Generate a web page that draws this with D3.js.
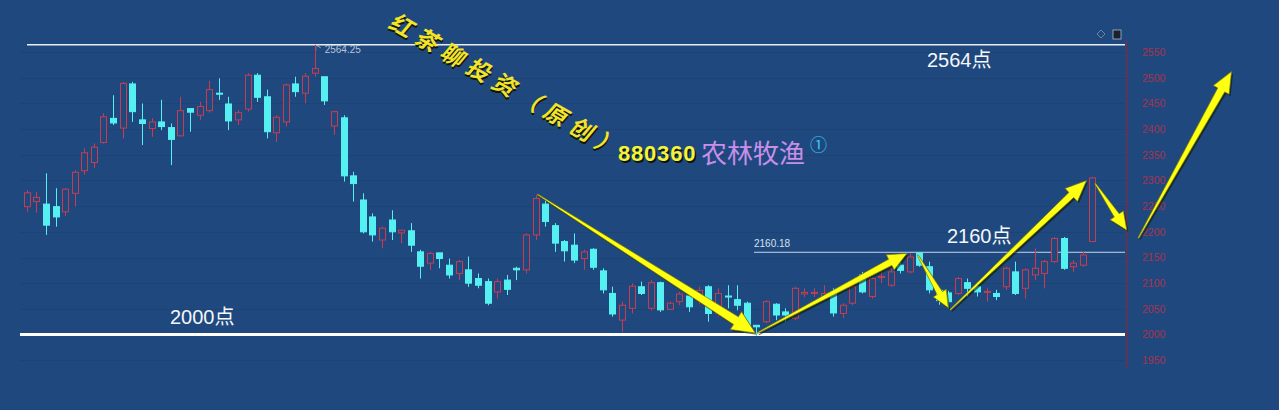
<!DOCTYPE html>
<html><head><meta charset="utf-8">
<script src="https://cdn.jsdelivr.net/npm/d3@7"></script>
<style>html,body{margin:0;padding:0;background:#1f497e;overflow:hidden}</style>
</head><body><svg id="c" width="1279" height="410"></svg>
<script>
// ---- data ----
const opens  = [2249,2259,2254,2249,2239,2275,2319,2335,2374,2421,2402,2488,2418,2401,2414,2403,2387,2440,2427,2436,
                2470,2449,2418,2439,2505,2463,2393,2414,2488,2470,2509,2502,2406,2422,2309,2262,2229,2184,2223,2198,
                2202,2161,2139,2159,2135,2119,2126,2109,2103,2083,2106,2129,2126,2194,2254,2212,2181,2174,2148,2166,
                2124,2080,2028,2051,2093,2051,2101,2049,2064,2075,2067,2093,2041,2075,2068,2061,2018,2025,2059,2044,
                2032,2079,2080,2074,2083,2041,2061,2116,2074,2111,2096,2135,2122,2159,2132,2086,2081,2080,2101,2093,
                2082,2080,2093,2122,2090,2116,2119,2142,2187,2132,2135,2181];
const highs  = [2281,2278,2314,2285,2285,2320,2363,2372,2431,2466,2492,2492,2450,2421,2457,2411,2463,2440,2453,2494,
                2499,2463,2437,2509,2509,2477,2427,2489,2502,2509,2564.25,2502,2436,2427,2317,2275,2236,2210,2242,2203,
                2217,2165,2161,2159,2148,2145,2152,2119,2109,2109,2116,2132,2197,2272,2262,2217,2184,2197,2165,2168,
                2129,2093,2064,2100,2103,2106,2103,2064,2083,2080,2093,2096,2090,2096,2096,2064,2018,2067,2061,2051,
                2093,2090,2090,2096,2090,2061,2096,2122,2112,2122,2129,2139,2158,2160.18,2142,2090,2085,2112,2109,2096,
                2090,2087,2132,2142,2129,2168,2145,2190,2190,2145,2161,2307];
const lows   = [2239,2237,2194,2210,2231,2249,2311,2324,2372,2408,2382,2414,2369,2385,2398,2330,2385,2395,2418,2432,
                2457,2398,2408,2434,2453,2382,2375,2405,2463,2450,2502,2447,2389,2298,2259,2197,2181,2168,2184,2178,
                2161,2109,2126,2129,2109,2106,2093,2090,2057,2070,2077,2106,2119,2184,2210,2161,2142,2139,2126,2126,
                2080,2035,2005,2041,2077,2047,2044,2048,2057,2044,2060,2025,2035,2051,2047,2002,1997,2022,2028,2025,
                2028,2073,2073,2067,2035,2032,2057,2080,2070,2100,2093,2119,2119,2132,2080,2058,2051,2077,2074,2074,
                2064,2067,2087,2077,2070,2106,2090,2139,2126,2122,2132,2181];
const closes = [2276,2267,2213,2229,2283,2316,2354,2365,2424,2412,2489,2434,2411,2414,2405,2380,2436,2433,2444,2477,
                2468,2416,2432,2505,2462,2395,2423,2486,2473,2503,2518,2455,2434,2309,2294,2200,2194,2207,2200,2203,
                2174,2133,2158,2148,2116,2142,2100,2096,2061,2103,2088,2126,2194,2265,2220,2178,2163,2145,2161,2131,
                2087,2040,2057,2094,2080,2101,2048,2061,2079,2054,2086,2041,2080,2073,2057,2005,2015,2064,2038,2038,
                2090,2082,2082,2080,2042,2057,2093,2083,2109,2113,2122,2125,2151,2135,2087,2066,2064,2109,2090,2083,
                2084,2074,2129,2080,2126,2129,2142,2187,2129,2139,2155,2305];
const yTicks = [1950,2000,2050,2100,2150,2200,2250,2300,2350,2400,2450,2500,2550];
const levelHigh = 2564.25, levelMid = 2160.18, levelLow = 2000;
// arrows: [fromIndex, fromPrice, toIndex, toPrice]
const arrowPts = [[53.2,2273,75.9,2003],[76.1,2003,91.7,2158],[92.8,2155,96.0,2052],
                  [96.2,2048,110.4,2300],[111.3,2294,114.6,2203],[115.8,2188,125.5,2512]];
const labels = ["2564点","2160点","2000点"];
const codeText = "880360", nameText = "农林牧渔", markText = "①", brandText = "红茶聊投资（原创）";

// ---- drawing ----
const BG = "#1f497e", RED = "#c83c50", CYAN = "#55f0f2";
const svg = d3.select("#c");
svg.append("rect").attr("width",1279).attr("height",410).attr("fill",BG);

const x = d3.scaleLinear().domain([0,111]).range([26.7,1092.3]);
const y = d3.scaleLinear().domain([1950,2550]).range([360.2,52.1]);
const axisX = 1126;

// faint grid
svg.append("g").selectAll("line").data(yTicks).join("line")
  .attr("x1",20).attr("x2",axisX).attr("y1",d=>Math.round(y(d))+0.5).attr("y2",d=>Math.round(y(d))+0.5)
  .attr("stroke","#1b4373").attr("stroke-width",1);

// axis
svg.append("line").attr("x1",axisX+0.5).attr("x2",axisX+0.5).attr("y1",y(2573)).attr("y2",y(1935))
  .attr("stroke","#70304a").attr("stroke-width",1.5);
const ax = svg.append("g").attr("transform",`translate(${axisX},0)`)
  .call(d3.axisRight(y).tickValues(yTicks).tickSize(3).tickPadding(13).tickFormat(d3.format("d")));
ax.select(".domain").remove();
ax.selectAll(".tick line").attr("stroke","#70304a");
ax.selectAll(".tick text").attr("fill","#a8324f").attr("font-size",10.5)
  .attr("font-family","'Liberation Sans',Arial,sans-serif");

// level lines
svg.append("line").attr("x1",27).attr("x2",axisX-1).attr("y1",y(levelHigh)).attr("y2",y(levelHigh))
  .attr("stroke","#e8eef8").attr("stroke-width",1.4);
svg.append("line").attr("x1",754).attr("x2",axisX-1).attr("y1",y(levelMid)).attr("y2",y(levelMid))
  .attr("stroke","#c8d4e8").attr("stroke-width",1);
svg.append("line").attr("x1",20).attr("x2",axisX-1).attr("y1",y(levelLow)).attr("y2",y(levelLow))
  .attr("stroke","#ffffff").attr("stroke-width",3);
svg.append("text").attr("x",754).attr("y",y(levelMid)-5).text(levelMid.toFixed(2))
  .attr("fill","#d8e0ec").attr("font-size",10).attr("font-family","'Liberation Sans',Arial,sans-serif");
const hiX = x(30);
svg.append("path").attr("d",`M${hiX+1},${y(levelHigh)+6} L${hiX+1},${y(levelHigh)} L${hiX+6},${y(levelHigh)+3}`)
  .attr("stroke","#c0c8d8").attr("fill","none").attr("stroke-width",0.8);
svg.append("text").attr("x",hiX+10).attr("y",y(levelHigh)+8).text(levelHigh.toFixed(2))
  .attr("fill","#b8c4d8").attr("font-size",10).attr("font-family","'Liberation Sans',Arial,sans-serif");

// candles
const idx = d3.range(opens.length);
const cg = svg.append("g");
idx.forEach(i=>{
  const o=opens[i], c=closes[i], h=highs[i], l=lows[i];
  const up = c>=o;
  const col = up?RED:CYAN;
  const xc = Math.round(x(i))+0.5;
  cg.append("line").attr("x1",xc).attr("x2",xc).attr("y1",y(h)).attr("y2",y(l)).attr("stroke",col).attr("stroke-width",1);
  const top = y(Math.max(o,c)), bot = y(Math.min(o,c));
  cg.append("rect").attr("x",xc-3).attr("y",top).attr("width",6).attr("height",Math.max(1,bot-top))
    .attr("fill",up?BG:col).attr("stroke",col).attr("stroke-width",1);
});

// arrows
const aStyle = [[9,21,23],[7,17,19],[6,15,17],[7,18,21],[6,16,18],[8,18,21]];
const ag = svg.append("g");
arrowPts.forEach((a,k)=>{
  const [w1,wh,hl] = aStyle[k];
  const x0=x(a[0]), y0=y(a[1]), x1=x(a[2]), y1=y(a[3]);
  const dx=x1-x0, dy=y1-y0, L=Math.hypot(dx,dy), ux=dx/L, uy=dy/L, nx=-uy, ny=ux;
  const bx=x1-ux*hl, by=y1-uy*hl, w0=1;
  const pts=[[x0+nx*w0/2,y0+ny*w0/2],[bx+nx*w1/2,by+ny*w1/2],[bx+nx*wh/2,by+ny*wh/2],[x1,y1],
             [bx-nx*wh/2,by-ny*wh/2],[bx-nx*w1/2,by-ny*w1/2],[x0-nx*w0/2,y0-ny*w0/2]];
  const d = "M"+pts.map(p=>p.join(",")).join("L")+"Z";
  ag.append("path").attr("d",d).attr("fill","#101800").attr("opacity",0.6).attr("transform","translate(1.5,1.8)");
  ag.append("path").attr("d",d).attr("fill","#ffff10").attr("stroke","#7a7a10").attr("stroke-width",0.7);
});

// texts
const F = "'Liberation Sans','Noto Sans CJK SC',Arial,sans-serif";
const lab = [[927,67],[947,243],[170,324]];
labels.forEach((t,k)=>svg.append("text").attr("x",lab[k][0]).attr("y",lab[k][1]).text(t)
  .attr("fill","#f4f6fa").attr("font-size",20).attr("font-family",F));

svg.append("text").attr("x",618).attr("y",161).text(codeText).attr("fill","#10140a")
  .attr("font-size",22).attr("font-weight","bold").attr("letter-spacing",0.8).attr("font-family",F).attr("transform","translate(1.5,1.5)");
svg.append("text").attr("x",618).attr("y",161).text(codeText).attr("fill","#f4f43a")
  .attr("font-size",22).attr("font-weight","bold").attr("letter-spacing",0.8).attr("font-family",F);
svg.append("text").attr("x",701).attr("y",163).text(nameText).attr("fill","#c88eea")
  .attr("font-size",26).attr("font-family","'Noto Sans CJK SC',sans-serif");
svg.append("text").attr("x",810).attr("y",151).text(markText).attr("fill","#3ccaf0")
  .attr("font-size",17).attr("font-family","'Noto Sans CJK SC',sans-serif");

const bt = svg.append("g").attr("transform","translate(404,25) rotate(30)");
[["#141400",1.6],["#f2e42c",0]].forEach(([f,o])=>{
  bt.append("text").attr("x",-12+o).attr("y",o).attr("dominant-baseline","central").text(brandText)
    .attr("fill",f).attr("font-size",23).attr("font-weight","bold").attr("letter-spacing",6.7)
    .attr("font-family","'Noto Sans CJK SC',sans-serif").attr("transform","skewX(-10)");
});

// small top-right icons
svg.append("path").attr("d","M1101,30 L1105,34 L1101,38 L1097,34 Z").attr("fill","none").attr("stroke","#8090a8").attr("stroke-width",0.8);
svg.append("rect").attr("x",1113).attr("y",30).attr("width",8).attr("height",9).attr("fill","#1a2030").attr("stroke","#b0b8c8").attr("stroke-width",0.8);
</script></body></html>
